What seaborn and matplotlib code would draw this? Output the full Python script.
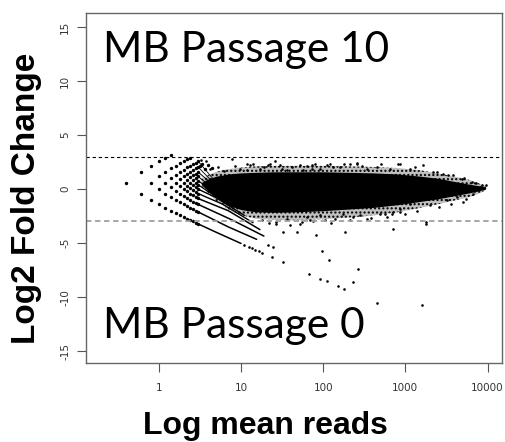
# ==================================================
# MA plot: MB Passage 10 vs MB Passage 0
# ==================================================

import pandas as pd
import seaborn as sns
import matplotlib.pyplot as plt


# ==================================================
# 1. data
# ==================================================

# low count lattice (mean reads, log2 fold change)
lattice_mean = [
    0.4,
    0.6, 0.6,
    0.8, 0.8, 0.8,
    1.0, 1.0, 1.0, 1.0,
    1.2, 1.2, 1.2, 1.2, 1.2,
    1.4, 1.4, 1.4, 1.4, 1.4, 1.4,
    1.6, 1.6, 1.6, 1.6, 1.6, 1.6,
    1.8, 1.8, 1.8, 1.8, 1.8, 1.8, 1.8,
    2.0, 2.0, 2.0, 2.0, 2.0, 2.0, 2.0, 2.0,
    2.2, 2.2, 2.2, 2.2, 2.2, 2.2, 2.2, 2.2, 2.2,
    2.4, 2.4, 2.4, 2.4, 2.4, 2.4, 2.4, 2.4, 2.4, 2.4,
    2.6, 2.6, 2.6, 2.6, 2.6, 2.6, 2.6, 2.6, 2.6, 2.6,
    2.8, 2.8, 2.8, 2.8, 2.8, 2.8, 2.8, 2.8, 2.8, 2.8, 2.8,
    3.0, 3.0, 3.0, 3.0, 3.0, 3.0, 3.0, 3.0, 3.0, 3.0, 3.0, 3.0,
    3.2, 3.4, 3.6, 4.0, 4.4,
]
lattice_lfc = [
    0.59,
    1.59, -0.41,
    2.17, 0.59, -0.99,
    2.59, 1.17, 0.0, -1.41,
    2.91, 1.59, 0.59, -0.41, -1.73,
    3.17, 1.91, 1.0, 0.17, -0.73, -1.99,
    2.17, 1.33, 0.59, -0.15, -0.99, -2.22,
    2.40, 1.59, 0.91, 0.27, -0.41, -1.22, -2.41,
    2.59, 1.81, 1.17, 0.59, 0.0, -0.63, -1.41, -2.58,
    2.76, 2.0, 1.40, 0.85, 0.33, -0.22, -0.83, -1.58, -2.73,
    2.91, 2.17, 1.59, 1.08, 0.59, 0.10, -0.41, -0.99, -1.73, -2.87,
    2.33, 1.76, 1.27, 0.81, 0.37, -0.09, -0.58, -1.15, -1.87, -2.99,
    2.46, 1.91, 1.44, 1.0, 0.59, 0.17, -0.26, -0.73, -1.28, -1.99, -3.11,
    2.59, 2.05, 1.59, 1.17, 0.78, 0.40, 0.0, -0.41, -0.87, -1.41, -2.11, -3.22,
    2.17, 2.32, 1.9, 2.2, 1.95,
]

# down-going stripes of low counts (start / middle / end)
stripe_id = [1, 1, 1, 2, 2, 2, 3, 3, 3, 4, 4, 4, 5, 5, 5, 6, 6, 6,
             7, 7, 7, 8, 8, 9, 9, 10, 10, 11, 11, 12, 12]
stripe_mean = [3.0, 5.0, 10.0, 3.0, 7.0, 15.5, 3.0, 8.0, 19.0,
               3.0, 7.0, 17.0, 3.0, 6.0, 14.0, 3.0, 5.0, 11.0,
               3.0, 6.0, 8.0, 3.0, 6.0, 3.0, 6.0, 3.0, 6.0,
               3.0, 5.5, 3.0, 5.0]
stripe_lfc = [-3.22, -4.0, -5.03, -2.11, -3.5, -4.65, -1.41, -2.9, -4.35,
              -0.87, -2.0, -3.75, -0.41, -1.4, -3.11, 0.0, -0.8, -2.44,
              0.40, -1.13, -1.65, 0.78, -0.87, 1.17, -0.63, 1.59, -0.41,
              2.05, 0.0, 2.59, 0.6]
stripe_width = [1.1, 1.1, 1.1, 1.1, 1.0, 1.0, 0.8, 0.8, 0.7, 0.7, 0.6, 0.6]

# dense cloud envelope
cloud_mean = [3.3, 4, 5, 6, 7, 10, 15, 25, 50, 100, 200, 400, 800, 1500,
              2500, 4000, 6000, 8000, 9500]
cloud_hi = [0.6, 0.95, 1.2, 1.3, 1.4, 1.5, 1.55, 1.6, 1.6, 1.6, 1.55,
            1.5, 1.4, 1.2, 1.0, 0.7, 0.45, 0.3, 0.2]
cloud_lo = [0.4, -0.2, -0.8, -1.2, -1.5, -1.9, -2.1, -2.15, -2.1, -2.0,
            -1.85, -1.7, -1.45, -1.15, -0.9, -0.6, -0.35, -0.15, 0.0]
fringe_hi = [0.9, 1.3, 1.6, 1.75, 1.85, 2.0, 2.1, 2.15, 2.15, 2.15, 2.1,
             2.05, 1.95, 1.75, 1.45, 1.15, 0.85, 0.5, 0.3]
fringe_lo = [0.2, -0.4, -1.1, -1.5, -1.9, -2.4, -2.75, -2.85, -2.9, -2.8,
             -2.65, -2.45, -2.15, -1.75, -1.4, -1.05, -0.75, -0.4, -0.1]

# scattered genes around the cloud and outliers
single_mean = [
    3.3, 3.8, 7.7, 12.9, 22.6, 26, 52, 80, 72.6, 121, 212, 261, 505, 820,
    850, 1650, 3800, 8100, 9700, 11.7, 133, 257,
    4.2, 5.3, 9.7, 11.8, 17, 21.6, 31.4, 36, 63, 72.6,
    57, 91, 160, 338, 450, 650, 1150, 2180, 2890, 4870, 6420, 8480,
    27, 36, 52, 69, 63, 91, 140, 232, 280, 565, 715,
    1150, 2010, 3200, 4200, 6700, 680, 860,
    55, 105, 176, 338, 490, 860, 1800, 5550, 185, 82, 710, 1800,
    27, 32.8, 47.8,
    11, 12.5, 13.5, 15, 16.5, 18, 21.6, 24.4, 23.6, 32.8, 68, 91, 110,
    153, 179, 98, 119, 229, 268, 450, 1580,
    6.2, 8.5, 14, 19, 30, 42, 110, 180, 300, 1300, 2400, 3300, 5200, 7300,
    18, 22, 40, 75, 125, 210, 380, 600, 1000, 1400, 2600, 3600, 5000,
]
single_lfc = [
    2.66, 2.6, 2.8, 2.19, 2.29, 2.6, 2.19, 2.29, 2.19, 2.35, 2.29, 2.44,
    2.35, 2.29, 2.35, 2.19, 1.27, 0.19, 0.34, 2.29, 2.04, 2.35,
    1.88, 2.04, 1.88, 1.73, 1.88, 2.19, 1.88, 1.73, 2.1, 1.88,
    1.73, 1.88, 2.04, 1.88, 2.04, 1.88, 1.88, 1.57, 1.42, 0.96, 0.65, 0.34,
    -3.05, -2.74, -3.2, -2.9, -2.6, -2.44, -2.74, -2.6, -2.44, -2.28, -2.13,
    -1.35, -1.5, -1.05, -0.74, -0.43, -2.28, -1.81,
    -3.05, -2.9, -2.28, -2.74, -2.28, -2.13, -3.05, -0.89, -3.98, -4.22,
    -3.67, -3.2,
    -3.2, -3.98, -3.98,
    -5.17, -5.36, -5.47, -5.62, -5.76, -5.89, -5.14, -5.37, -6.28, -6.76,
    -7.82, -8.3, -8.5, -9.0, -9.26, -5.77, -6.6, -8.6, -7.43, -10.55, -10.77,
    1.7, 2.1, 2.3, 2.0, 2.25, 2.0, 2.2, 2.3, 2.15, 2.0, 1.6, 1.3, 1.0, 0.6,
    -2.9, -3.1, -3.3, -3.0, -3.1, -2.9, -2.7, -2.6, -2.3, -2.0, -1.7, -1.4, -1.2,
]

lattice_df = pd.DataFrame({"mean": lattice_mean, "lfc": lattice_lfc})
stripe_df = pd.DataFrame({"id": stripe_id, "mean": stripe_mean, "lfc": stripe_lfc})
single_df = pd.DataFrame({"mean": single_mean, "lfc": single_lfc})


# ==================================================
# 2. plot
# ==================================================

sns.set_theme(style="white")
plt.rcParams["hatch.linewidth"] = 1.0

fig = plt.figure(figsize=(5.05, 4.42), dpi=100)
ax = fig.add_axes([0.1703, 0.1787, 0.8237, 0.7919])

ax.set_xscale("log")

# stripes
for sid, part in stripe_df.groupby("id"):
    ax.plot(part["mean"], part["lfc"], color="black",
            lw=stripe_width[sid - 1], solid_capstyle="round")

# cloud body: speckled fringe + solid core
ax.fill_between(cloud_mean, fringe_lo, fringe_hi, facecolor="#00000040",
                edgecolor="black", hatch="....", lw=0)
ax.fill_between(cloud_mean, cloud_lo, cloud_hi, color="black", lw=0)

sns.scatterplot(data=lattice_df, x="mean", y="lfc", ax=ax,
                color="black", s=6, linewidth=0, marker="o")
sns.scatterplot(data=single_df, x="mean", y="lfc", ax=ax,
                color="black", s=3.5, linewidth=0, marker="o")

# threshold lines
ax.axhline(3, color="black", lw=0.8, dashes=(3, 2.5))
ax.axhline(-3, color="#a0a0a0", lw=1.3, dashes=(3, 2))

ax.set_xlim(0.13, 15000)
ax.set_ylim(-16.1, 16.3)

ax.set_xticks([1, 10, 100, 1000, 10000])
ax.set_xticklabels(["1", "10", "100", "1000", "10000"])
ax.set_yticks([-15, -10, -5, 0, 5, 10, 15])
ax.set_yticklabels(["-15", "-10", "-5", "0", "5", "10", "15"])
ax.minorticks_off()

ax.tick_params(axis="both", which="major", length=6.5, width=0.8,
               color="#555555", labelcolor="#333333", labelsize=7.5,
               left=True, bottom=True)
ax.tick_params(axis="y", labelrotation=90, pad=5)
ax.tick_params(axis="x", pad=8)
for lab in ax.get_yticklabels():
    lab.set_verticalalignment("center")

for sp in ax.spines.values():
    sp.set_color("#666666")
    sp.set_linewidth(1.0)

ax.set_xlabel("")
ax.set_ylabel("")

ax.text(0.041, 0.861, "MB Passage 10", transform=ax.transAxes, color="black",
        fontsize=30.5, family="Lato", va="baseline", ha="left")
ax.text(0.041, 0.0705, "MB Passage 0", transform=ax.transAxes, color="black",
        fontsize=30.5, family="Lato", va="baseline", ha="left")

fig.text(0.053, 0.551, "Log2 Fold Change", rotation=90, ha="center",
         va="center", fontsize=24, fontweight="bold", color="black",
         family="Liberation Sans")
fig.text(0.525, 0.036, "Log mean reads", ha="center", va="center",
         fontsize=23, fontweight="bold", color="black",
         family="Liberation Sans")

plt.savefig("out.png", dpi=100)
plt.close()
